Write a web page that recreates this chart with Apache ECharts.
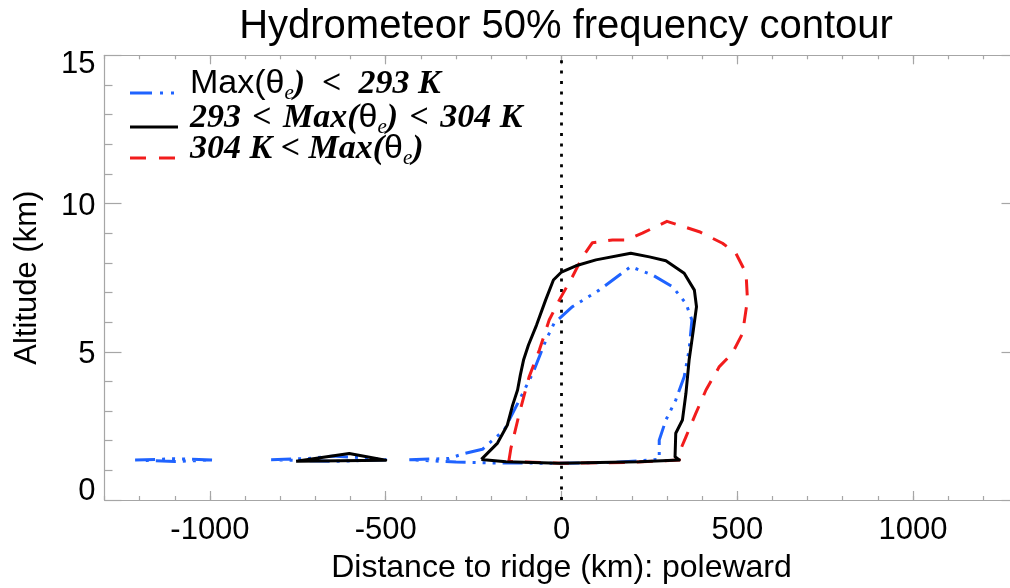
<!DOCTYPE html>
<html>
<head>
<meta charset="utf-8">
<title>Hydrometeor 50% frequency contour</title>
<script src="https://cdn.jsdelivr.net/npm/echarts@6/dist/echarts.min.js"></script>
<style>
  html, body { margin: 0; padding: 0; background: #fff; }
  #chart { width: 1010px; height: 588px; }
</style>
</head>
<body>
<div id="chart"></div>
<script>
// Axis ranges and tick positions
const xRange = [-1300, 1300];
const yRange = [0, 15];
const xMajorTicks = [-1000, -500, 0, 500, 1000];
const xMinorTicks = [-1300, -1200, -1100, -1000, -900, -800, -700, -600, -500, -400, -300, -200, -100,
                     0, 100, 200, 300, 400, 500, 600, 700, 800, 900, 1000, 1100, 1200, 1300];

// Legend labels
const seriesNames = ['Max(θe) < 293 K', '293 < Max(θe) < 304 K', '304 K < Max(θe)'];

// 50% frequency contour, Max(θe) < 293 K  (distance km, altitude km); several closed pieces
const coldMain = [[-433,1.36],[-320,1.40],[-282,1.55],[-225,1.71],[-163,2.36],[-120,3.37],[-82,4.27],
  [-44,5.40],[-21,5.96],[31,6.52],[107,7.08],[197,7.87],[259,7.59],[316,7.19],[354,6.63],[371,6.07],
  [363,5.06],[349,4.16],[325,3.37],[297,2.70],[278,2.02],[278,1.37],[150,1.27],[-6,1.24],[-200,1.25],
  [-300,1.28],[-433,1.36]];
const coldPieceA = [[-1213,1.35],[-1100,1.39],[-993,1.35],[-1100,1.30],[-1213,1.35]];
const coldPieceB = [[-826,1.36],[-720,1.40],[-650,1.48],[-560,1.42],[-500,1.36],[-650,1.30],[-826,1.36]];

// 293 < Max(θe) < 304 K
const midMain = [[-228,1.37],[-182,1.92],[-154,2.53],[-139,3.20],[-125,3.71],[-117,4.22],[-108,4.72],
  [-94,5.23],[-71,5.90],[-45,6.75],[-23,7.42],[0,7.69],[41,7.90],[98,8.10],[197,8.32],[250,8.20],
  [297,8.07],[349,7.65],[378,7.08],[384,6.52],[375,5.73],[363,4.72],[354,3.60],[344,2.70],[325,2.25],
  [323,1.46],[335,1.35],[221,1.29],[-6,1.24],[-158,1.29],[-228,1.37]];
const midPiece = [[-755,1.31],[-604,1.57],[-500,1.34],[-755,1.31]];

// 304 K < Max(θe)
const warmMain = [[-150,1.30],[-144,1.74],[-120,2.92],[-92,4.16],[-63,5.06],[-35,6.07],[-6,6.75],
  [31,7.53],[60,8.20],[88,8.68],[145,8.77],[183,8.77],[230,9.00],[300,9.40],[392,9.05],[458,8.66],
  [496,8.32],[525,7.65],[529,6.75],[515,5.62],[486,4.95],[449,4.50],[411,3.71],[382,2.92],[354,2.13],
  [340,1.74],[335,1.35],[200,1.27],[0,1.24],[-150,1.30]];

// Ridge position marker
const ridgeLine = [[0, 0], [0, 15]];

const BLUE = '#1f63ff';
const RED = '#f21c1c';
const BLACK = '#000000';
const AXIS = '#a6a6a6';
const SANS = 'Liberation Sans, Arial, Helvetica, sans-serif';
const SERIF = 'Liberation Serif, Times New Roman, serif';

const blueDash = [20, 7, 3, 7, 3, 7, 3, 7];
const redDash = [16, 12];

function contour(name, data, color, dash) {
  return {
    type: 'line', name: name, data: data,
    xAxisIndex: 0, yAxisIndex: 0,
    symbol: 'none', smooth: false, clip: true,
    lineStyle: { color: color, width: 3, type: dash, cap: 'butt', join: 'round' },
    silent: true, animation: false
  };
}

function xAxisPair(position) {
  return [
    {
      type: 'value', position: position, min: xRange[0], max: xRange[1],
      axisLine: { show: true, onZero: false, lineStyle: { color: AXIS, width: 1.2 } },
      axisTick: { show: true, inside: true, length: 9, customValues: xMajorTicks, lineStyle: { color: AXIS, width: 1.2 } },
      axisLabel: position === 'bottom'
        ? { show: true, customValues: xMajorTicks, color: '#000', fontSize: 31, fontFamily: SANS, margin: 15,
            formatter: function (v) { return String(v); } }
        : { show: false },
      splitLine: { show: false },
      name: position === 'bottom' ? 'Distance to ridge (km): poleward' : '',
      nameLocation: 'middle', nameGap: 52,
      nameTextStyle: { color: '#000', fontSize: 32, fontFamily: SANS }
    },
    {
      type: 'value', position: position, min: xRange[0], max: xRange[1],
      axisLine: { show: false, onZero: false },
      axisTick: { show: true, inside: true, length: 4, customValues: xMinorTicks, lineStyle: { color: AXIS, width: 1.2 } },
      axisLabel: { show: false },
      splitLine: { show: false }
    }
  ];
}

// y tick labels sit slightly inside the frame at both ends
function yLabel(v) {
  if (v === yRange[0]) return '{lo|' + v + '}';
  if (v === yRange[1]) return '{hi|' + v + '}';
  return '{md|' + v + '}';
}
const yLabelRich = {
  lo: { fontSize: 31, fontFamily: SANS, color: '#000', padding: [0, 0, 18, 0] },
  hi: { fontSize: 31, fontFamily: SANS, color: '#000', padding: [18, 0, 0, 0] },
  md: { fontSize: 31, fontFamily: SANS, color: '#000', padding: [6, 0, 0, 0] }
};

function yAxisOf(position) {
  return {
    type: 'value', position: position, min: yRange[0], max: yRange[1], interval: 5,
    axisLine: { show: true, onZero: false, lineStyle: { color: AXIS, width: 1.2 } },
    axisTick: { show: true, inside: true, length: 17, lineStyle: { color: AXIS, width: 1.2 } },
    minorTick: { show: true, splitNumber: 5, length: 8, lineStyle: { color: AXIS, width: 1.2 } },
    axisLabel: position === 'left'
      ? { show: true, color: '#000', fontSize: 31, fontFamily: SANS, margin: 9,
          formatter: yLabel, rich: yLabelRich }
      : { show: false },
    splitLine: { show: false },
    minorSplitLine: { show: false },
    name: position === 'left' ? 'Altitude (km)' : '',
    nameLocation: 'middle', nameGap: 62, nameRotate: 90,
    nameTextStyle: { color: '#000', fontSize: 31, fontFamily: SANS }
  };
}

// Legend rows drawn as sample strokes plus rich text
const richStyles = {
  s:   { fontFamily: SANS, fontSize: 34, color: '#000', lineHeight: 40, verticalAlign: 'middle' },
  b:   { fontFamily: SERIF, fontSize: 34, fontStyle: 'italic', fontWeight: 'bold', color: '#000', lineHeight: 40, verticalAlign: 'middle' },
  sub: { fontFamily: SERIF, fontSize: 21, fontStyle: 'italic', color: '#000', lineHeight: 22, verticalAlign: 'bottom' }
};
const legendText = [
  '{s|Max(θ}{sub|e}{b|)\u2002<\u2002293 K}',
  '{b|293\u2004<\u2004Max(}{s|θ}{sub|e}{b|)\u2004<\u2004304 K}',
  '{b|304 K < Max(}{s|θ}{sub|e}{b|)}'
];
const legendRows = [
  { color: BLUE, dash: [22, 8, 3, 8, 3, 8], y: 93 },
  { color: BLACK, dash: null, y: 127 },
  { color: RED, dash: [16, 13], y: 158 }
];
const legendGraphics = [];
legendRows.forEach(function (row, i) {
  legendGraphics.push({
    type: 'line', silent: true,
    shape: { x1: 130, y1: row.y, x2: 178, y2: row.y },
    style: { stroke: row.color, lineWidth: 3, lineDash: row.dash, lineCap: 'butt' }
  });
  legendGraphics.push({
    type: 'text', silent: true, x: 190, y: row.y - 9,
    style: { text: legendText[i], rich: richStyles, verticalAlign: 'middle', align: 'left' }
  });
});

const chart = echarts.init(document.getElementById('chart'), null, { renderer: 'canvas' });
chart.setOption({
  animation: false,
  backgroundColor: '#fff',
  title: {
    text: 'Hydrometeor 50% frequency contour',
    left: 561, top: 2, textAlign: 'center',
    textStyle: { color: '#000', fontSize: 40, fontWeight: 'normal', fontFamily: SANS }
  },
  grid: { left: 104.5, top: 55.3, width: 914, height: 444.7, containLabel: false, outerBoundsMode: 'none' },
  xAxis: xAxisPair('bottom').concat(xAxisPair('top')),
  yAxis: [yAxisOf('left'), yAxisOf('right')],
  series: [
    {
      type: 'line', name: 'ridge', data: ridgeLine, symbol: 'none', silent: true,
      lineStyle: { color: BLACK, width: 2.8, type: [3, 7.4], cap: 'butt' }
    },
    contour(seriesNames[0], coldMain, BLUE, blueDash),
    contour(seriesNames[0], coldPieceA, BLUE, blueDash),
    contour(seriesNames[0], coldPieceB, BLUE, blueDash),
    contour(seriesNames[2], warmMain, RED, redDash),
    contour(seriesNames[1], midMain, BLACK, 'solid'),
    contour(seriesNames[1], midPiece, BLACK, 'solid')
  ],
  graphic: legendGraphics
});
</script>
</body>
</html>
